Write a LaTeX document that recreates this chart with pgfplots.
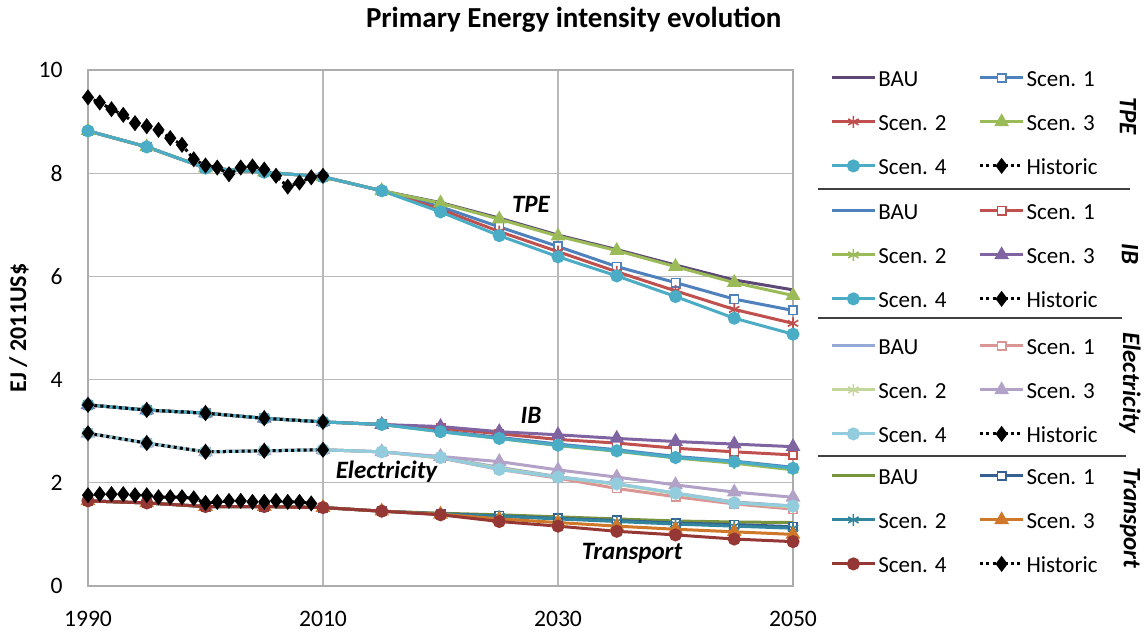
\documentclass[border=0pt]{standalone}
\usepackage{fontspec}
\setmainfont{Carlito}
\usepackage{pgfplots}
\pgfplotsset{compat=1.18}
\usepackage{pgfplotstable}

% Excel 2007 style palette
\definecolor{tbau}{HTML}{5C4776}
\definecolor{xblue}{HTML}{4F81BD}
\definecolor{xred}{HTML}{C0504D}
\definecolor{xgreen}{HTML}{9BBB59}
\definecolor{xpurple}{HTML}{8064A2}
\definecolor{xaqua}{HTML}{4BACC6}
\definecolor{lblue}{HTML}{95A9D7}
\definecolor{lred}{HTML}{D99694}
\definecolor{lgreen}{HTML}{C3D69B}
\definecolor{lpurple}{HTML}{B3A2C7}
\definecolor{laqua}{HTML}{93CDDD}
\definecolor{dgreen}{HTML}{77933C}
\definecolor{dblue}{HTML}{376092}
\definecolor{dteal}{HTML}{31859C}
\definecolor{dorange}{HTML}{D0782A}
\definecolor{dred}{HTML}{953735}

\pgfplotstableread{
year bau s1 s2 s3 s4
1990 8.82 8.82 8.82 8.82 8.82
1995 8.51 8.51 8.51 8.51 8.51
2000 8.10 8.10 8.10 8.10 8.10
2005 8.02 8.02 8.02 8.02 8.02
2010 7.93 7.93 7.93 7.93 7.93
2015 7.66 7.66 7.66 7.66 7.66
2020 7.43 7.35 7.30 7.42 7.25
2025 7.13 6.96 6.87 7.11 6.79
2030 6.80 6.58 6.48 6.78 6.38
2035 6.52 6.19 6.09 6.50 6.01
2040 6.22 5.88 5.72 6.19 5.61
2045 5.93 5.56 5.36 5.88 5.19
2050 5.74 5.34 5.09 5.63 4.88
}\tpe

\pgfplotstableread{
year bau s1 s2 s3 s4
1990 3.51 3.51 3.51 3.51 3.51
1995 3.41 3.41 3.41 3.41 3.41
2000 3.35 3.35 3.35 3.35 3.35
2005 3.25 3.25 3.25 3.25 3.25
2010 3.18 3.18 3.18 3.18 3.18
2015 3.13 3.13 3.13 3.13 3.13
2020 3.01 3.06 2.99 3.09 2.99
2025 2.88 2.95 2.86 2.99 2.86
2030 2.75 2.84 2.72 2.93 2.73
2035 2.64 2.77 2.61 2.86 2.62
2040 2.51 2.67 2.48 2.80 2.49
2045 2.42 2.60 2.38 2.75 2.41
2050 2.30 2.54 2.25 2.70 2.28
}\ib

\pgfplotstableread{
year bau s1 s2 s3 s4
1990 2.96 2.96 2.96 2.96 2.96
1995 2.77 2.77 2.77 2.77 2.77
2000 2.60 2.60 2.60 2.60 2.60
2005 2.62 2.62 2.62 2.62 2.62
2010 2.64 2.64 2.64 2.64 2.64
2015 2.60 2.60 2.60 2.60 2.60
2020 2.50 2.48 2.49 2.51 2.49
2025 2.30 2.26 2.28 2.41 2.26
2030 2.12 2.09 2.11 2.25 2.11
2035 1.98 1.89 1.97 2.11 1.98
2040 1.80 1.73 1.79 1.96 1.80
2045 1.63 1.59 1.62 1.82 1.61
2050 1.55 1.49 1.53 1.72 1.55
}\elec

\pgfplotstableread{
year bau s1 s2 s3 s4
1990 1.65 1.65 1.65 1.65 1.65
1995 1.61 1.61 1.61 1.61 1.61
2000 1.54 1.54 1.54 1.54 1.54
2005 1.54 1.54 1.54 1.54 1.54
2010 1.52 1.52 1.52 1.52 1.52
2015 1.45 1.45 1.45 1.45 1.45
2020 1.41 1.40 1.39 1.39 1.38
2025 1.38 1.36 1.35 1.30 1.25
2030 1.34 1.31 1.30 1.23 1.16
2035 1.30 1.27 1.25 1.16 1.06
2040 1.26 1.22 1.20 1.10 0.99
2045 1.24 1.19 1.16 1.05 0.91
2050 1.23 1.15 1.12 1.00 0.86
}\trans

% historic series
\pgfplotstableread{
year v
1990 9.47
1991 9.37
1992 9.24
1993 9.13
1994 8.97
1995 8.91
1996 8.84
1997 8.68
1998 8.55
1999 8.27
2000 8.15
2001 8.11
2002 7.98
2003 8.11
2004 8.13
2005 8.07
2006 7.95
2007 7.74
2008 7.82
2009 7.92
2010 7.95
}\tpehist

\pgfplotstableread{
year v
1990 3.51
1995 3.41
2000 3.35
2005 3.25
2010 3.18
}\ibhist

\pgfplotstableread{
year v
1990 2.96
1995 2.77
2000 2.60
2005 2.62
2010 2.64
}\elechist

\pgfplotstableread{
year v
1990 1.76
1991 1.78
1992 1.78
1993 1.78
1994 1.76
1995 1.76
1996 1.72
1997 1.72
1998 1.72
1999 1.70
2000 1.61
2001 1.63
2002 1.65
2003 1.65
2004 1.63
2005 1.63
2006 1.65
2007 1.63
2008 1.63
2009 1.60
}\transhist

\pgfplotsset{
  grp/.style={
    scale only axis, width=352.5pt, height=258pt,
    at={(0,0)}, anchor=south west,
    xmin=1990, xmax=2050, ymin=0, ymax=10,
    clip=false,
    legend columns=2,
    legend cell align=left,
    legend image code/.code={\draw[mark repeat=2,mark phase=2]
      plot coordinates {(0pt,0pt) (10.75pt,0pt) (21.5pt,0pt)};},
    legend style={draw=none, fill=none, inner sep=0pt, anchor=north west,
      font=\fontsize{11.5}{13}\selectfont, row sep=11.5pt,
      nodes={inner sep=1pt, text height=8.5pt, text depth=0pt},
      /tikz/column 2/.style={column sep=15pt}},
    every axis plot/.append style={line width=1.5pt, mark size=2.4pt, mark options={solid}},
  },
  s1/.style={mark=square*, mark size=2.1pt, mark options={fill=white, line width=0.8pt}},
  s2/.style={mark=asterisk, mark size=3pt, mark options={line width=0.8pt}},
  s3/.style={mark=triangle*, mark size=2.8pt},
  s4/.style={mark=*, mark size=2.5pt},
  hist/.style={black, line width=1.5pt, dash pattern=on 1.5pt off 1.6pt,
    mark=diamond*, mark size=2.8pt, mark options={solid}},
  every axis title/.style={at={(axis description cs:0.689,1.097)}, anchor=center,
    font=\bfseries\fontsize{14.5}{16}\selectfont},
}

\begin{document}
\begin{tikzpicture}
\path[use as bounding box] (-44pt,-23.5pt) rectangle (530pt,293pt);

\begin{axis}[grp,
  grid=major, grid style={gray!55, line width=0.6pt},
  axis line style={gray!65, line width=0.6pt},
  tick style={draw=none},
  xtick={1990,2010,2030,2050}, ytick={0,2,...,10},
  /pgf/number format/assume math mode=true,
  /pgf/number format/1000 sep={},
  xticklabel style={anchor=center, yshift=-16.5pt, font=\fontsize{11.8}{13}\selectfont},
  yticklabel style={anchor=east, inner sep=0pt, xshift=-12.5pt, font=\fontsize{11.8}{13}\selectfont},
  title={Primary Energy intensity evolution},
  ylabel={EJ / 2011US\$},
  ylabel style={at={(axis description cs:-0.0979,0.5)}, anchor=center,
    font=\bfseries\fontsize{12}{14}\selectfont},
  legend style={at={(axis description cs:1.0525,1.0058)}},
]
\addplot[tbau] table[x=year,y=bau] {\tpe};
\addplot[xblue,s1] table[x=year,y=s1] {\tpe};
\addplot[xred,s2] table[x=year,y=s2] {\tpe};
\addplot[xgreen,s3] table[x=year,y=s3] {\tpe};
\addplot[xaqua,s4] table[x=year,y=s4] {\tpe};
\addplot[hist] table[x=year,y=v] {\tpehist};
\legend{BAU,Scen. 1,Scen. 2,Scen. 3,Scen. 4,Historic}
\node[font=\bfseries\itshape\fontsize{12.5}{14}\selectfont] at (axis cs:2027.7,7.40) {TPE};
\node[font=\bfseries\itshape\fontsize{12.5}{14}\selectfont] at (axis cs:2027.7,3.31) {IB};
\node[font=\bfseries\itshape\fontsize{12.5}{14}\selectfont] at (axis cs:2015.4,2.21) {Electricity};
\node[font=\bfseries\itshape\fontsize{12.5}{14}\selectfont] at (axis cs:2036.3,0.64) {Transport};
\end{axis}

\begin{axis}[grp, hide axis, legend style={at={(axis description cs:1.0525,0.7481)}}]
\addplot[xblue] table[x=year,y=bau] {\ib};
\addplot[xred,s1] table[x=year,y=s1] {\ib};
\addplot[xgreen,s2] table[x=year,y=s2] {\ib};
\addplot[xpurple,s3] table[x=year,y=s3] {\ib};
\addplot[xaqua,s4] table[x=year,y=s4] {\ib};
\addplot[hist] table[x=year,y=v] {\ibhist};
\legend{BAU,Scen. 1,Scen. 2,Scen. 3,Scen. 4,Historic}
\end{axis}

\begin{axis}[grp, hide axis, legend style={at={(axis description cs:1.0525,0.4864)}}]
\addplot[lblue] table[x=year,y=bau] {\elec};
\addplot[lred,s1] table[x=year,y=s1] {\elec};
\addplot[lgreen,s2] table[x=year,y=s2] {\elec};
\addplot[lpurple,s3] table[x=year,y=s3] {\elec};
\addplot[laqua,s4] table[x=year,y=s4] {\elec};
\addplot[hist] table[x=year,y=v] {\elechist};
\legend{BAU,Scen. 1,Scen. 2,Scen. 3,Scen. 4,Historic}
\end{axis}

\begin{axis}[grp, hide axis, legend style={at={(axis description cs:1.0525,0.2345)}}]
\addplot[dgreen] table[x=year,y=bau] {\trans};
\addplot[dblue,s1] table[x=year,y=s1] {\trans};
\addplot[dteal,s2] table[x=year,y=s2] {\trans};
\addplot[dorange,s3] table[x=year,y=s3] {\trans};
\addplot[dred,s4] table[x=year,y=s4] {\trans};
\addplot[hist] table[x=year,y=v] {\transhist};
\legend{BAU,Scen. 1,Scen. 2,Scen. 3,Scen. 4,Historic}
\end{axis}

% legend group separators and names
\draw[black!75, line width=0.7pt] (365pt,198.5pt) -- (521pt,198.5pt);
\draw[black!75, line width=0.7pt] (365pt,134pt) -- (517pt,134pt);
\draw[black!75, line width=0.7pt] (365pt,65pt) -- (519pt,65pt);
\begin{scope}[every node/.style={rotate=-90, font=\bfseries\itshape\fontsize{12.5}{14}\selectfont}]
\node at (520pt,235pt) {TPE};
\node at (521pt,166pt) {IB};
\node at (521pt,101.5pt) {Electricity};
\node at (521pt,34pt) {Transport};
\end{scope}
\end{tikzpicture}
\end{document}
